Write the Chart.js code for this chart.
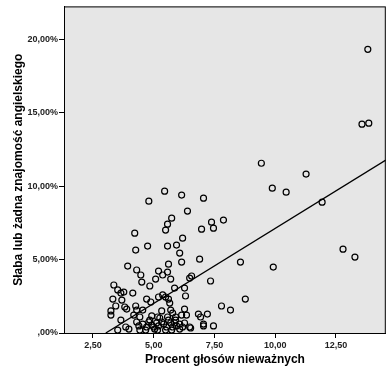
<!DOCTYPE html>
<html>
<head>
<meta charset="utf-8">
<script src="https://cdn.jsdelivr.net/npm/chart.js@4.4.0/dist/chart.umd.min.js"></script>
<style>
  html, body { margin: 0; padding: 0; background: #ffffff; }
  #wrap { width: 390px; height: 377px; }
</style>
</head>
<body>
<div id="wrap"><canvas id="scatterChart" width="390" height="377"></canvas></div>
<script>
// Procent głosów nieważnych (x) vs. słaba lub żadna znajomość angielskiego (y, %)
const invalidVotes = [
  13.81, 13.57, 13.85, 9.43, 11.27, 9.88, 10.45, 7.05, 11.93, 7.38,
  7.87, 6.97, 7.46, 12.79, 13.28, 6.89, 8.57, 9.92, 6.56, 6.48,
  7.34, 8.77, 7.79, 8.16, 6.84, 7.21, 6.93, 7.05, 7.05, 7.46,
  6.52, 5.45, 6.15, 4.80, 6.39, 5.74, 5.57, 5.49, 4.22, 6.19,
  4.26, 4.75, 5.57, 5.94, 6.07, 6.15, 5.61, 3.93, 4.30, 4.47,
  5.20, 5.37, 5.57, 5.08, 5.70, 4.51, 4.84, 3.36, 3.52, 3.77,
  3.65, 4.14, 5.86, 6.27, 5.37, 5.49, 5.20, 3.32, 3.69, 4.71,
  4.88, 5.61, 5.66, 6.31, 3.44, 3.81, 3.89, 4.26, 4.30, 4.55,
  3.24, 3.24, 5.33, 5.70, 5.78, 6.27, 6.15, 6.35, 4.18, 4.43,
  4.92, 5.16, 5.57, 5.90, 3.65, 3.85, 3.52, 3.98, 4.30, 4.39,
  4.55, 4.71, 4.80, 4.92, 5.00, 5.12, 5.20, 5.33, 5.41, 5.53,
  5.61, 5.70, 5.78, 5.86, 5.94, 6.07, 6.19, 6.27, 6.48, 5.04,
  5.49, 4.67, 4.43, 5.25, 4.84, 5.90, 5.16, 5.74, 6.07
];
const poorEnglish = [
  19.32, 14.22, 14.29, 11.56, 10.82, 9.86, 9.59, 9.18, 8.91, 7.55,
  7.69, 7.07, 7.14, 5.71, 5.17, 5.03, 4.83, 4.49, 3.88, 3.74,
  3.54, 2.31, 1.84, 1.56, 1.29, 1.29, 1.09, 0.61, 0.48, 0.48,
  0.34, 9.66, 9.39, 8.98, 8.30, 7.82, 7.41, 7.01, 6.80, 6.46,
  5.65, 5.92, 5.92, 5.99, 5.44, 4.83, 4.69, 4.56, 4.29, 3.95,
  4.22, 3.95, 4.15, 3.67, 3.67, 3.47, 3.20, 3.27, 2.93, 2.79,
  2.72, 2.72, 3.06, 3.06, 2.59, 2.45, 2.45, 2.31, 2.24, 2.31,
  2.11, 2.31, 2.04, 2.52, 1.84, 1.77, 1.63, 1.84, 1.56, 1.56,
  1.50, 1.22, 1.50, 1.56, 1.36, 1.63, 1.22, 1.22, 1.22, 1.09,
  1.16, 1.09, 1.09, 1.09, 0.88, 0.41, 0.20, 0.27, 0.75, 0.48,
  0.61, 0.41, 0.75, 0.54, 0.41, 0.68, 0.48, 0.75, 0.61, 0.41,
  0.88, 0.68, 0.41, 0.68, 0.48, 0.61, 0.41, 0.68, 0.41, 0.27,
  0.20, 0.20, 0.20, 1.02, 0.88, 0.88, 0.20, 0.20, 0.27
];

// linia dopasowania
const fitX = [3.03, 14.55];
const fitY = [0, 11.77];

const xTicks = [2.5, 5, 7.5, 10, 12.5];
const xTickLabels = ['2,50', '5,00', '7,50', '10,00', '12,50'];
const yTicks = [0, 5, 10, 15, 20];
const yTickLabels = [',00%', '5,00%', '10,00%', '15,00%', '20,00%'];

const xTitle = 'Procent głosów nieważnych';
const yTitle = 'Słaba lub żadna znajomość angielskiego';

const plotBackground = {
    id: 'plotBackground',
    beforeDraw(chart) {
        const { ctx, chartArea: a } = chart;
        ctx.save();
        ctx.fillStyle = '#e6e6e6';
        ctx.fillRect(a.left, a.top, a.right - a.left, a.bottom - a.top);
        ctx.restore();
    },
    afterDatasetsDraw(chart) {
        const { ctx, chartArea: a } = chart;
        ctx.save();
        ctx.strokeStyle = '#000';
        ctx.lineWidth = 1;
        ctx.strokeRect(a.left + 0.5, a.top + 0.5, a.right - a.left - 1, a.bottom - a.top);
        ctx.restore();
    }
};

function buildPoints() {
    return invalidVotes.map((x, i) => ({ x: x, y: poorEnglish[i] }));
}

function drawChart() {
    const ctx = document.getElementById('scatterChart').getContext('2d');
    const tickFont = { family: 'Liberation Sans, Arial, sans-serif', size: 9, weight: 'bold' };
    const titleFont = { family: 'Liberation Sans, Arial, sans-serif', size: 12, weight: 'bold' };

    new Chart(ctx, {
        type: 'scatter',
        data: {
            datasets: [{
                data: buildPoints(),
                pointStyle: 'circle',
                pointRadius: 3,
                pointHoverRadius: 3,
                borderColor: '#000',
                backgroundColor: 'rgba(0,0,0,0)',
                borderWidth: 1.2
            }, {
                type: 'line',
                data: fitX.map((x, i) => ({ x: x, y: fitY[i] })),
                borderColor: '#000',
                borderWidth: 1.3,
                pointRadius: 0,
                fill: false
            }]
        },
        options: {
            responsive: false,
            animation: false,
            layout: { padding: { left: 0, right: 3, top: 6, bottom: 0 } },
            plugins: {
                legend: { display: false },
                tooltip: { enabled: false }
            },
            scales: {
                x: {
                    type: 'linear',
                    min: 1.31,
                    max: 14.55,
                    afterBuildTicks: scale => { scale.ticks = xTicks.map(v => ({ value: v })); },
                    afterFit: scale => { scale.height = 44; },
                    grid: { drawOnChartArea: false, drawTicks: true, tickLength: 5, color: '#000' },
                    border: { display: true, color: '#000' },
                    ticks: {
                        color: '#222',
                        font: tickFont,
                        padding: 2,
                        maxRotation: 0,
                        callback: v => xTickLabels[xTicks.indexOf(v)]
                    },
                    title: {
                        display: true,
                        text: xTitle,
                        color: '#000',
                        font: titleFont,
                        padding: { top: 6, bottom: 10 }
                    }
                },
                y: {
                    type: 'linear',
                    min: 0,
                    max: 22.24,
                    afterBuildTicks: scale => { scale.ticks = yTicks.map(v => ({ value: v })); },
                    afterFit: scale => { scale.width = 64; },
                    grid: { drawOnChartArea: false, drawTicks: true, tickLength: 5, color: '#000' },
                    border: { display: true, color: '#000' },
                    ticks: {
                        color: '#222',
                        font: tickFont,
                        padding: 1,
                        callback: v => yTickLabels[yTicks.indexOf(v)]
                    },
                    title: {
                        display: true,
                        text: yTitle,
                        color: '#000',
                        font: titleFont,
                        padding: { top: 11, bottom: 0 }
                    }
                }
            }
        },
        plugins: [plotBackground]
    });
}

window.onload = drawChart;
</script>
</body>
</html>
